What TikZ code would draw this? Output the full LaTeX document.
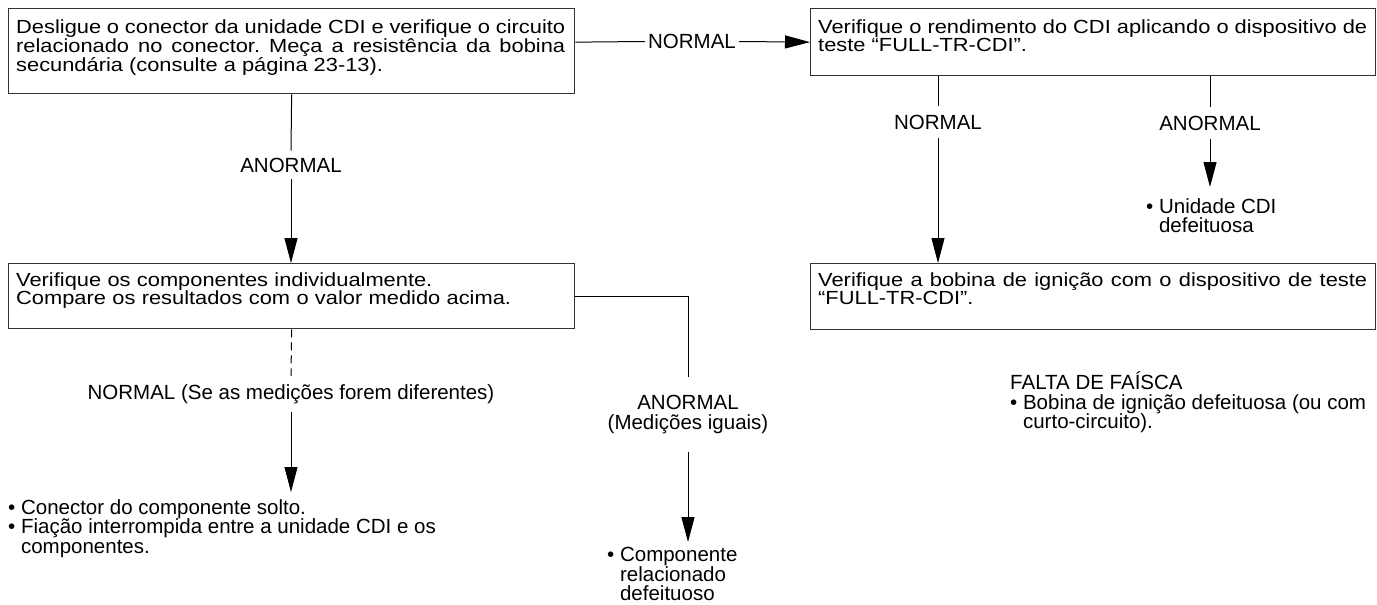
\documentclass[tikz,border=0pt]{standalone}
\usepackage{fontspec}
\setmainfont{Liberation Sans}
\newfontfamily\boxfont[FakeStretch=1.15]{Liberation Sans}
\usetikzlibrary{arrows.meta}

\tikzset{
  frame/.style={draw=black!80, line width=1.3pt, inner sep=0pt, anchor=north west},
  boxtext/.style={anchor=north west, inner sep=0pt, text width=549pt, align=justify,
    font=\boxfont\fontsize{19}{17.75}\selectfont},
  boxtextl/.style={boxtext, align=left},
  lbl/.style={inner xsep=3pt, inner ysep=8pt, font=\fontsize{20.5}{19.5}\selectfont},
  note/.style={anchor=north west, inner xsep=0pt, align=left, font=\fontsize{20.5}{19.5}\selectfont},
  conn/.style={line width=1pt},
  arr/.style={conn, -{Triangle[length=25pt,width=13pt]}},
}

\begin{document}
\frenchspacing
\begin{tikzpicture}[x=1pt, y=-1pt]
\useasboundingbox[fill=white] (0,0) rectangle (1377,605);

% boxes
\node[frame, minimum width=566pt, minimum height=85pt] (f1) at (8,8) {};
\node[boxtext] (t1) at (16,19.4) {Desligue o conector da unidade CDI e verifique o circuito\linebreak
  relacionado no conector. Meça a resistência da bobina\linebreak
  secundária (consulte a página 23-13).};

\node[frame, minimum width=565pt, minimum height=67pt] (f2) at (810,8) {};
\node[boxtext] (t2) at (818,19.4) {Verifique o rendimento do CDI aplicando o dispositivo de\linebreak
  teste “FULL-TR-CDI”.};

\node[frame, minimum width=565pt, minimum height=66pt] (f3) at (810,263) {};
\node[boxtext] (t3) at (818,273) {Verifique a bobina de ignição com o dispositivo de teste\linebreak
  “FULL-TR-CDI”.};

\node[frame, minimum width=566pt, minimum height=65pt] (f4) at (8,263) {};
\node[boxtextl] (t4) at (16,273) {Verifique os componentes individualmente.\newline
  Compare os resultados com o valor medido acima.};

% labels
\node[lbl] (ln1) at (692,41.5) {NORMAL};
\node[lbl, inner ysep=7pt] (la1) at (291,165) {ANORMAL};
\node[lbl, inner ysep=9pt] (ln2) at (938,122) {NORMAL};
\node[lbl, inner ysep=9pt] (la2) at (1210,123) {ANORMAL};
\node[lbl, anchor=base] (lnl) at (291,399) {NORMAL (Se as medições forem diferentes)};
\node[lbl, anchor=north, align=center, inner ysep=18pt] (la3) at (688,377) {ANORMAL\\(Medições iguais)};

% results
\node[note, inner ysep=11pt] (u1) at (1146,187) {• Unidade CDI\\\hphantom{• }defeituosa};
\node[note, inner ysep=7pt] (b1) at (8,492) {• Conector do componente solto.\\
  • Fiação interrompida entre a unidade CDI e os\\\hphantom{• }componentes.};
\node[note, inner ysep=5pt] (c1) at (607,542) {• Componente\\\hphantom{• }relacionado\\\hphantom{• }defeituoso};
\node[note, inner ysep=0pt] (s1) at (1010,372) {FALTA DE FAÍSCA\\
  • Bobina de ignição defeituosa (ou com\\\hphantom{• }curto-circuito).};

% connectors
\draw[conn] (f2.west -| f1.east) -- (ln1.west);
\draw[arr] (ln1.east) -- (f2.west);

\draw[conn] (f1.south) -- (la1.north);
\draw[arr] (la1.south) -- (la1.south |- f4.north);

\draw[conn] (f2.south -| ln2) -- (ln2.north);
\draw[arr] (ln2.south) -- (ln2.south |- f3.north);

\draw[conn] (f2.south -| la2) -- (la2.north);
\draw[arr] (la2.south) -- (la2.south |- u1.north);

\draw[conn, dash pattern=on 8pt off 5pt] (f4.south) -- (lnl.north);
\draw[arr] (lnl.south) -- (lnl.south |- b1.north);

\draw[conn] (f4.east) -| (la3.north);
\draw[arr] (la3.south) -- (la3.south |- c1.north);
\end{tikzpicture}
\end{document}
